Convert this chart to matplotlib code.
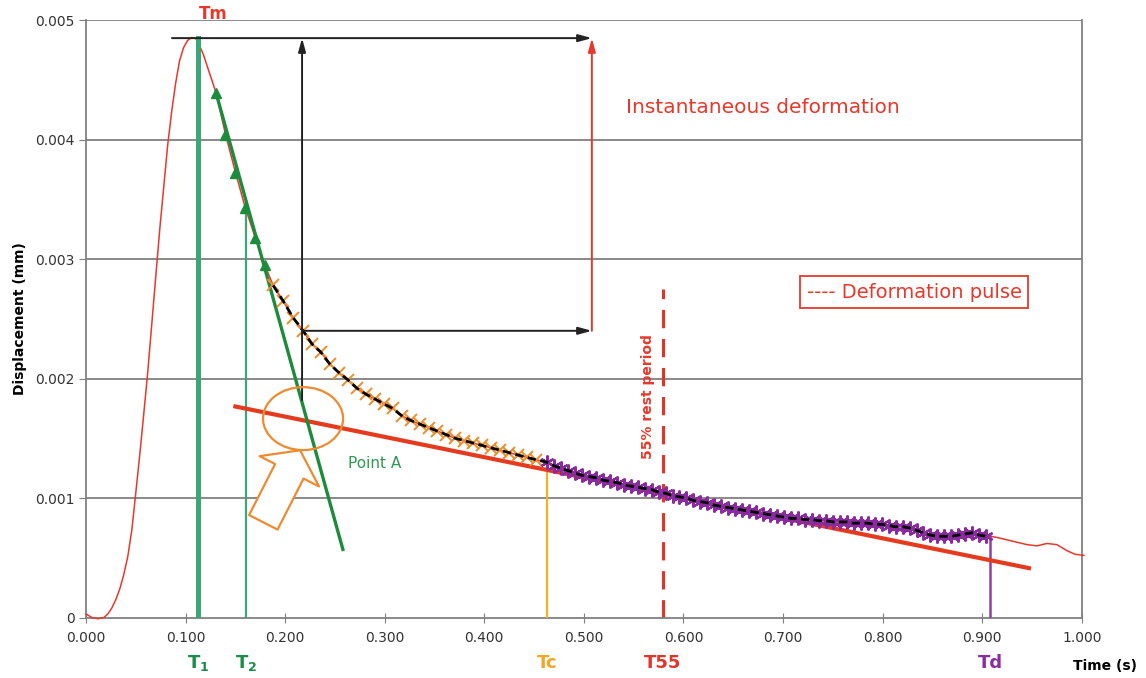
import matplotlib
matplotlib.use("Agg")
import matplotlib.pyplot as plt
import matplotlib.transforms as mtransforms
from matplotlib.patches import Ellipse, FancyArrowPatch, ArrowStyle

# --- data --------------------------------------------------------------
# deformation pulse: rise, peak and early decay (s, mm)
pulse_t = [0.000, 0.006, 0.012, 0.018, 0.022, 0.026, 0.030, 0.034, 0.038,
           0.042, 0.046, 0.050, 0.054, 0.058, 0.062, 0.066, 0.070, 0.074,
           0.078, 0.082, 0.086, 0.090, 0.094, 0.098, 0.102, 0.106, 0.110,
           0.114, 0.118, 0.122, 0.126, 0.1307, 0.140, 0.150, 0.160, 0.170,
           0.180]
pulse_y = [0.00003, 0.00000, -0.00001, 0.00000, 0.00003, 0.00008, 0.00015,
           0.00024, 0.00036, 0.00051, 0.00073, 0.00104, 0.00136, 0.00170,
           0.00205, 0.00245, 0.00285, 0.00324, 0.00360, 0.00395, 0.00423,
           0.00447, 0.00466, 0.00477, 0.00483, 0.004855, 0.00485, 0.00479,
           0.00471, 0.00461, 0.00451, 0.00439, 0.00405, 0.00373, 0.00343,
           0.00318, 0.00294]

# instantaneous recovery samples (orange crosses)
cross_t = [0.188, 0.198, 0.208, 0.218, 0.227, 0.236, 0.245, 0.254, 0.263,
           0.272, 0.281, 0.290, 0.299, 0.308, 0.317, 0.326, 0.335, 0.344,
           0.353, 0.362, 0.371, 0.380, 0.389, 0.398, 0.407, 0.416, 0.425,
           0.434, 0.443, 0.452]
cross_y = [0.00278, 0.00265, 0.00251, 0.00240, 0.00229, 0.00222, 0.00212,
           0.00205, 0.00199, 0.00192, 0.00187, 0.00183, 0.00179, 0.00175,
           0.00169, 0.00165, 0.00162, 0.00159, 0.00156, 0.00153, 0.00150,
           0.00148, 0.00146, 0.00144, 0.00142, 0.00140, 0.00138, 0.00136,
           0.00134, 0.00132]

# delayed recovery samples (purple asterisks)
star_t = [0.463, 0.470, 0.477, 0.484, 0.491, 0.498, 0.505, 0.512, 0.519,
          0.526, 0.533, 0.540, 0.547, 0.554, 0.561, 0.568, 0.575, 0.582,
          0.589, 0.596, 0.603, 0.610, 0.617, 0.624, 0.631, 0.638, 0.645,
          0.652, 0.659, 0.666, 0.673, 0.680, 0.687, 0.694, 0.701, 0.708,
          0.715, 0.722, 0.729, 0.736, 0.743, 0.750, 0.757, 0.764, 0.771,
          0.778, 0.785, 0.792, 0.799, 0.806, 0.813, 0.820, 0.827, 0.834,
          0.841, 0.848, 0.855, 0.862, 0.869, 0.876, 0.883, 0.890, 0.897,
          0.904]
star_y = [0.00130, 0.00127, 0.00125, 0.00123, 0.00121, 0.00119, 0.00118,
          0.00117, 0.00115, 0.00114, 0.00113, 0.00111, 0.00110, 0.00109,
          0.00108, 0.00107, 0.00105, 0.00104, 0.00102, 0.00101, 0.00100,
          0.00098, 0.00097, 0.00096, 0.00094, 0.00093, 0.00092, 0.00091,
          0.00090, 0.00089, 0.00088, 0.00087, 0.00086, 0.00085, 0.00084,
          0.00083, 0.00083, 0.00082, 0.00082, 0.00081, 0.00081, 0.00080,
          0.00080, 0.00080, 0.00079, 0.00079, 0.00079, 0.00078, 0.00078,
          0.00077, 0.00076, 0.00076, 0.00075, 0.00073, 0.00071, 0.00069,
          0.00068, 0.00068, 0.00068, 0.00069, 0.00070, 0.00071, 0.00069,
          0.00068]

# pulse tail after Td
tail_t = [0.908, 0.915, 0.925, 0.935, 0.945, 0.955, 0.965, 0.975, 0.985,
          0.993, 1.002]
tail_y = [0.00068, 0.00067, 0.00065, 0.00063, 0.00061, 0.00060, 0.00062,
          0.00061, 0.00056, 0.00053, 0.00052]

# tangent on the falling limb (green triangles)
tri_t = [0.1307, 0.1399, 0.1497, 0.1598, 0.170, 0.180]
tri_y = [0.00439, 0.00404, 0.00372, 0.00343, 0.00318, 0.00295]
tangent_t = [0.1307, 0.258]
tangent_y = [0.00439, 0.00057]

# regression line through the delayed part (thick red)
creep_t = [0.148, 0.949]
creep_y = [0.00177, 0.00041]

# characteristic times and the displacement where each marker line stops
t_names = ["T$_\\mathbf{1}$", "T$_\\mathbf{2}$", "Tc", "T55", "Td"]
t_values = [0.113, 0.161, 0.463, 0.579, 0.908]
t_tops = [0.00485, 0.00343, 0.0013, 0.00275, 0.00068]
t_colors = ["#1c8c48", "#1c8c48", "#f5a623", "#e3342a", "#8a2ca0"]

peak_y = 0.00485
recovery_y = 0.0024
inst_x = 0.508
helper_x = 0.217
helper_bottom = 0.00182

x_ticks = [0.0, 0.1, 0.2, 0.3, 0.4, 0.5, 0.6, 0.7, 0.8, 0.9, 1.0]
y_ticks = [0, 0.001, 0.002, 0.003, 0.004, 0.005]
y_tick_labels = ["0", "0.001", "0.002", "0.003", "0.004", "0.005"]

RED = "#e8382b"
GREY = "#808080"

fig = plt.figure(figsize=(11.46, 6.78), dpi=100)
ax = fig.add_axes([0.075, 0.0892, 0.869, 0.881])
ax.set_xlim(0, 1.0)
ax.set_ylim(0, 0.005)

for y in y_ticks[1:]:
    ax.axhline(y, color=GREY, lw=1.3, zorder=0)
for s in ["left", "bottom", "right"]:
    ax.spines[s].set_color(GREY)
    ax.spines[s].set_linewidth(1.3)
ax.spines["top"].set_visible(False)

ax.set_xticks(x_ticks)
ax.set_xticklabels([f"{v:.3f}" for v in x_ticks], fontsize=10, color="#333333")
ax.set_yticks(y_ticks)
ax.set_yticklabels(y_tick_labels, fontsize=10, color="#333333")
ax.tick_params(axis="x", direction="inout", length=7, color=GREY, pad=6)
ax.tick_params(axis="y", direction="out", length=5, color=GREY, pad=3)
ax.set_ylabel("Displacement (mm)", fontsize=10, fontweight="bold", labelpad=6)

# full red pulse curve
full_t = pulse_t + cross_t + star_t + tail_t
full_y = pulse_y + cross_y + star_y + tail_y
ax.plot(full_t, full_y, color=RED, lw=1.1, zorder=3, clip_on=False)

# vertical time marker lines
widths = [3.6, 1.6, 1.6, 2.2, 1.8]
line_cols = ["#3aa67a", "#3aa67a", "#f5b02a", "#e3342a", "#8e3fa5"]
for tv, top, lw, c in zip(t_values, t_tops, widths, line_cols):
    if c == "#e3342a":
        ax.plot([tv, tv], [0, top], color=c, lw=lw, dashes=(6, 3.5), zorder=2)
    else:
        ax.plot([tv, tv], [0, top], color=c, lw=lw, zorder=4)

# regression line and tangent
ax.plot(creep_t, creep_y, color="#e63a1f", lw=3, zorder=5, solid_capstyle="butt")
ax.plot(tangent_t, tangent_y, color="#1c8c3c", lw=2.4, zorder=5)
ax.plot(tri_t, tri_y, ls="none", marker="^", ms=6.5, color="#1c8c3c", zorder=6)

# samples
ax.plot(cross_t, cross_y, ls="none", marker="x", ms=8, mew=1.4,
        color="#f08c2a", zorder=6)
ax.plot(star_t, star_y, ls="none", marker=(6, 2, 0), ms=10, mew=1.6,
        color="#8a2ca0", zorder=6)
ax.plot(cross_t + star_t, cross_y + star_y, color="black", lw=2,
        dashes=(3, 1.6), zorder=7)

# arrows
def arrow(x0, y0, x1, y1, color):
    ax.annotate("", xy=(x1, y1), xytext=(x0, y0),
                arrowprops=dict(arrowstyle="-|>,head_length=0.8,head_width=0.22",
                                color=color, lw=1.4, shrinkA=0, shrinkB=0),
                zorder=8)

arrow(0.0864, peak_y, inst_x, peak_y, "#222222")
arrow(helper_x, helper_bottom, helper_x, peak_y, "#222222")
arrow(helper_x, recovery_y, inst_x, recovery_y, "#222222")
arrow(inst_x, recovery_y, inst_x, peak_y, RED)

# Point A highlight
ax.add_patch(Ellipse((0.218, 0.001665), 0.0804, 0.000527, fill=False,
                     edgecolor="#ee8a30", lw=1.6, zorder=8))
ax.add_patch(FancyArrowPatch((0.1781, 0.000797), (0.215, 0.0014),
                             arrowstyle=ArrowStyle("Simple", head_length=17,
                                                   head_width=48, tail_width=23),
                             mutation_scale=1, facecolor="white",
                             edgecolor="#ee8a30", lw=1.6, shrinkA=0, shrinkB=0,
                             zorder=8))
ax.text(0.263, 0.00129, "Point A", color="#2e9a52", fontsize=11,
        ha="left", va="center", zorder=9)

# labels
ax.text(0.128, 0.00505, "Tm", color=RED, fontsize=12, fontweight="bold",
        ha="center", va="center", clip_on=False)
ax.text(0.542, 0.00427, "Instantaneous deformation", color=RED, fontsize=14.5,
        ha="left", va="center")
ax.text(0.8315, 0.002724, "---- Deformation pulse", color=RED, fontsize=14,
        ha="center", va="center",
        bbox=dict(boxstyle="square,pad=0.35", facecolor="white", edgecolor=RED,
                  lw=1.3))
ax.text(0.5645, 0.00185, "55% rest period", color=RED, fontsize=10,
        fontweight="bold", rotation=90, ha="center", va="center")

trans = mtransforms.blended_transform_factory(ax.transData, ax.transAxes)
for name, tv, c in zip(t_names, t_values, t_colors):
    ax.text(tv, -0.076, name, color=c, fontsize=13, fontweight="bold",
            ha="center", va="center", transform=trans)
ax.text(1.023, -0.081, "Time (s)", fontsize=10, fontweight="bold",
        ha="center", va="center", transform=ax.transAxes)

fig.savefig("out.png", dpi=100)
